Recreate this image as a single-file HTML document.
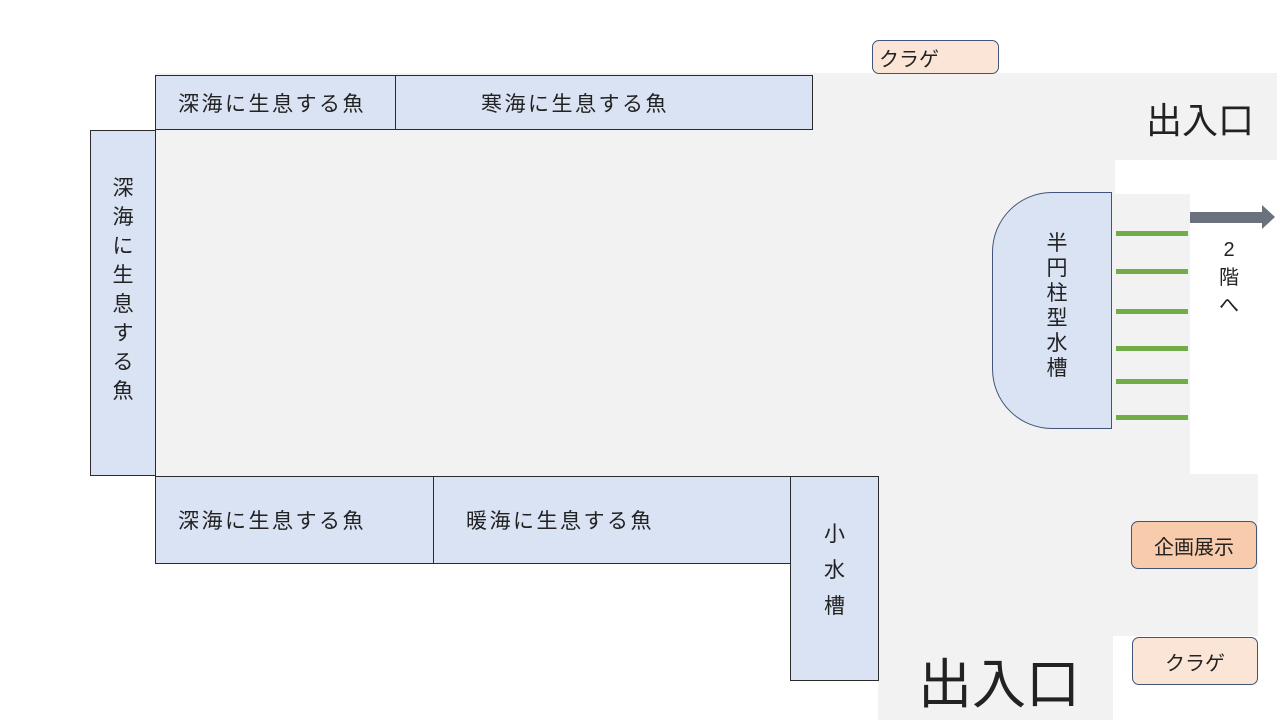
<!DOCTYPE html>
<html><head><meta charset="utf-8"><style>
body{margin:0;width:1280px;height:720px;background:#fff;position:relative;overflow:hidden;font-family:"Liberation Sans","Noto Sans CJK JP",sans-serif;color:#222}
div{position:absolute;box-sizing:border-box}
.g{background:#f2f2f2}
.b{background:#dae3f3;border:1px solid #2b2b2b;font-size:21px;letter-spacing:2.5px;display:flex;align-items:center;justify-content:center}
.vt{background:#dae3f3;border:1px solid #2b2b2b;font-size:21px;text-align:center}
.gl{background:#70ad47;height:5px;left:1116px;width:72px}
.p{border:1px solid #41557a;border-radius:7px;font-size:20px;display:flex;align-items:center;justify-content:center}
</style></head><body>
<div class="g" style="left:155px;top:73px;width:1122px;height:87px"></div>
<div class="g" style="left:155px;top:130px;width:960px;height:346px"></div>
<div class="g" style="left:1115px;top:194px;width:75px;height:282px"></div>
<div class="g" style="left:878px;top:474px;width:380px;height:162px"></div>
<div class="g" style="left:878px;top:474px;width:235px;height:246px"></div>

<div class="b" style="left:155px;top:75px;width:241px;height:55px;justify-content:flex-start;padding-left:22px">深海に生息する魚</div>
<div class="b" style="left:395px;top:75px;width:418px;height:55px;justify-content:flex-start;padding-left:85px">寒海に生息する魚</div>
<div class="vt" style="left:90px;top:130px;width:66px;height:346px;padding-top:43px;line-height:29px">深<br>海<br>に<br>生<br>息<br>す<br>る<br>魚</div>
<div class="b" style="left:155px;top:476px;width:279px;height:88px;justify-content:flex-start;padding-left:22px">深海に生息する魚</div>
<div class="b" style="left:433px;top:476px;width:358px;height:88px;justify-content:flex-start;padding-left:32px">暖海に生息する魚</div>
<div class="vt" style="left:790px;top:476px;width:89px;height:205px;padding-top:40px;line-height:36px">小<br>水<br>槽</div>

<div style="left:992px;top:192px;width:120px;height:237px;background:#dae3f3;border:1px solid #41557a;border-radius:60px 0 0 60px;font-size:21px;text-align:center;padding-top:38px;padding-left:10px;line-height:25px">半<br>円<br>柱<br>型<br>水<br>槽</div>

<div class="gl" style="top:231px"></div>
<div class="gl" style="top:269px"></div>
<div class="gl" style="top:309px"></div>
<div class="gl" style="top:346px"></div>
<div class="gl" style="top:379px"></div>
<div class="gl" style="top:415px"></div>

<svg style="position:absolute;left:1190px;top:204px" width="90" height="30"><polygon points="0,8 72,8 72,1 85,13 72,25 72,19 0,19" fill="#6a737d"/></svg>
<div style="left:1215px;top:236px;width:28px;font-size:20px;line-height:28px;text-align:center">2<br>階<br>へ</div>

<div style="left:1146px;top:92px;font-size:36px">出入口</div>
<div style="left:918px;top:650px;font-size:54px;line-height:70px">出入口</div>

<div class="p" style="left:872px;top:40px;width:127px;height:34px;background:#fbe5d6;justify-content:flex-start;padding-left:6px">クラゲ</div>
<div class="p" style="left:1131px;top:521px;width:126px;height:48px;background:#f8cbad">企画展示</div>
<div class="p" style="left:1132px;top:637px;width:126px;height:48px;background:#fbe5d6">クラゲ</div>
</body></html>
